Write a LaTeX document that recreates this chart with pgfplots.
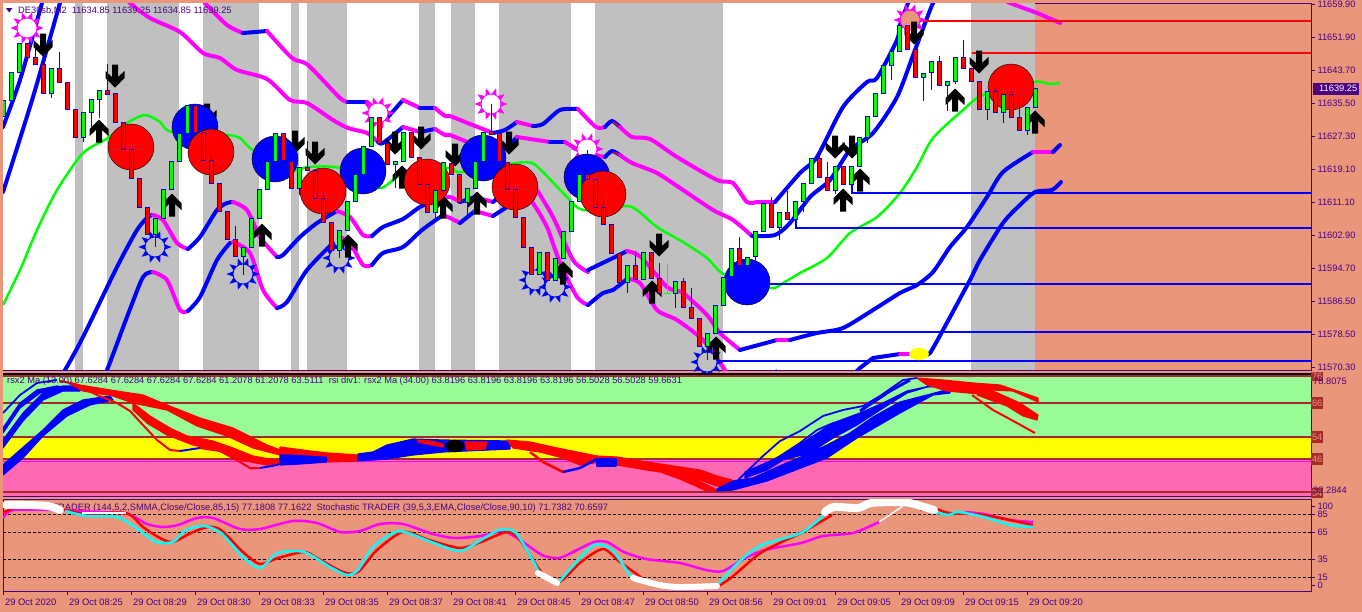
\documentclass[border=0pt]{standalone}
\usepackage{pgfplots}
\usepackage{pgfplotstable}
\usepackage{fontspec}
\setmainfont{Liberation Sans}
\pgfplotsset{compat=1.18}
\definecolor{salmonbg}{HTML}{E9967A}
\definecolor{indigoc}{HTML}{4B0082}
\definecolor{silverc}{HTML}{C0C0C0}
\definecolor{limec}{HTML}{00FF00}
\definecolor{bluec}{HTML}{0000FF}
\definecolor{magc}{HTML}{FF00FF}
\definecolor{redc}{HTML}{FF0000}
\definecolor{palegreenc}{HTML}{98FB98}
\definecolor{hotpinkc}{HTML}{FF69B4}
\definecolor{brownc}{HTML}{A52A2A}
\definecolor{cyanc}{HTML}{00FFFF}
\definecolor{yellowc}{HTML}{FFFF00}
\newcommand{\tk}{\fontsize{9.28}{10}\selectfont}
\newcommand{\xk}{\fontsize{9.4}{10}\selectfont}
% red candles: x top bottom
\pgfplotstableread{
x top bot
27.5 43 57
35.5 57 64
43.5 64 93
59.5 68 82
67.5 82 109
75.5 109 137
107.5 90 94
115.5 93 122
123.5 122 149
131.5 149 178
139.5 178 207
147.5 207 234
195.5 105 132
203.5 132 160
211.5 160 183
219.5 183 211
227.5 211 239
235.5 239 256
283.5 133 160
291.5 161 188
307.5 167 170
315.5 170 198
323.5 198 222
331.5 222 250
379.5 117 143
387.5 143 164
411.5 132 157
419.5 157 184
427.5 184 212
451.5 163 174
459.5 174 202
491.5 131 134
499.5 133 161
507.5 162 189
515.5 189 217
523.5 217 247
531.5 247 274
547.5 252 280
587.5 174 179
595.5 179 207
603.5 207 224
611.5 224 253
619.5 253 282
635.5 265 279
651.5 252 278
659.5 278 293
683.5 281 307
691.5 307 318
699.5 318 346
739.5 248 265
771.5 203 227
787.5 212 219
819.5 158 177
827.5 177 190
843.5 166 184
907.5 25 49
915.5 49 77
939.5 61 85
963.5 57 68
971.5 68 81
979.5 81 109
995.5 91 112
1011.5 94 117
1019.5 117 130
}\redcandles
% green candles: x top bottom
\pgfplotstableread{
x top bot
3.5 100 116
11.5 72 100
19.5 43 72
51.5 68 93
83.5 112 137
91.5 99 112
99.5 90 99
155.5 218 234
163.5 189 218
171.5 161 189
179.5 133 161
187.5 105 133
243.5 247 256
251.5 218 247
259.5 189 218
267.5 161 189
275.5 133 161
299.5 167 188
339.5 230 250
347.5 201 230
355.5 174 201
363.5 146 174
371.5 117 146
395.5 161 164
403.5 132 161
435.5 190 212
443.5 162 190
467.5 188 202
475.5 161 188
483.5 132 161
539.5 252 274
555.5 258 280
563.5 231 258
571.5 201 231
579.5 174 201
627.5 265 282
643.5 252 279
675.5 281 293
707.5 333 346
715.5 305 333
723.5 277 305
731.5 248 276
747.5 257 265
755.5 231 256
763.5 203 231
779.5 212 227
795.5 201 219
803.5 183 201
811.5 158 183
835.5 166 190
851.5 166 184
859.5 137 166
867.5 116 137
875.5 93 116
883.5 65 93
891.5 51 65
899.5 25 51
923.5 73 77
931.5 61 72
947.5 81 85
955.5 57 81
987.5 91 109
1003.5 94 112
1027.5 107 130
1035.5 88 107
}\greencandles
% wicks: x high low
\pgfplotstableread{
x hi lo
35.5 43 64
51.5 68 98
59.5 52 68
83.5 112 142
91.5 99 128
99.5 90 118
107.5 64 94
155.5 218 247
211.5 154 160
235.5 226 239
243.5 247 275
299.5 167 195
307.5 141 167
323.5 193 198
339.5 230 258
395.5 161 188
435.5 190 218
467.5 188 215
491.5 104 132
587.5 150 174
603.5 196 207
627.5 265 293
635.5 251 265
659.5 263 278
675.5 281 308
683.5 278 281
691.5 288 307
707.5 333 360
739.5 237 248
755.5 231 260
771.5 197 203
779.5 212 240
787.5 191 212
803.5 183 212
819.5 152 158
827.5 162 177
835.5 166 194
851.5 166 193
867.5 116 143
891.5 51 80
923.5 73 101
931.5 61 90
939.5 56 61
947.5 81 111
955.5 57 84
963.5 40 57
987.5 91 120
995.5 84 91
1003.5 94 123
1011.5 89 94
1019.5 102 117
1027.5 107 135
}\wicks
\newcommand{\candles}[2]{%
 \pgfplotstablegetrowsof{#1}\pgfmathtruncatemacro{\nrows}{\pgfplotsretval-1}%
 \pgfplotsforeachungrouped \ii in {0,...,\nrows}{%
   \pgfplotstablegetelem{\ii}{x}\of{#1}\let\cx\pgfplotsretval
   \pgfplotstablegetelem{\ii}{top}\of{#1}\let\ctop\pgfplotsretval
   \pgfplotstablegetelem{\ii}{bot}\of{#1}\let\cbot\pgfplotsretval
   \pgfmathsetmacro{\xa}{\cx-2}\pgfmathsetmacro{\xb}{\cx+2}%
   \edef\temp{\noexpand\addplot[fill=#2,draw=bluec,line width=1pt] coordinates {(\xa,\ctop)(\xb,\ctop)(\xb,\cbot)(\xa,\cbot)} -- cycle;}\temp
 }}
\pgfplotsset{
 bandb/.style={bluec,line width=4pt,line join=round,line cap=round,smooth,tension=0.45},
 bandm/.style={magc,line width=4pt,line join=round,line cap=round,smooth,tension=0.45},
 soft/.style={line join=round,smooth,tension=0.45},
 rp/.style={fill=redc,draw=redc,line width=1.2pt,line join=round},
 bp/.style={fill=bluec,draw=bluec,line width=1.2pt,line join=round},
 cb/.style={draw=none,no markers,error bars/.cd,y dir=plus,y explicit,error mark=none},
 panel/.style={scale only axis,clip mode=individual,axis line style={indigoc,line width=1pt},
   tick style={indigoc,line width=0.8pt},tick align=outside,major tick length=4pt,
   y dir=reverse,xmin=3,xmax=1311},
}
\pgfdeclareplotmark{downarr}{%
 \pgfpathmoveto{\pgfqpoint{-3pt}{11.5pt}}\pgfpathlineto{\pgfqpoint{3pt}{11.5pt}}\pgfpathlineto{\pgfqpoint{3pt}{-1pt}}%
 \pgfpathlineto{\pgfqpoint{9.5pt}{5pt}}\pgfpathlineto{\pgfqpoint{9.5pt}{-2pt}}\pgfpathlineto{\pgfqpoint{0pt}{-11.5pt}}%
 \pgfpathlineto{\pgfqpoint{-9.5pt}{-2pt}}\pgfpathlineto{\pgfqpoint{-9.5pt}{5pt}}\pgfpathlineto{\pgfqpoint{-3pt}{-1pt}}\pgfpathclose\pgfusepathqfill}
\pgfdeclareplotmark{uparr}{%
 \pgfpathmoveto{\pgfqpoint{-3pt}{-11.5pt}}\pgfpathlineto{\pgfqpoint{3pt}{-11.5pt}}\pgfpathlineto{\pgfqpoint{3pt}{1pt}}%
 \pgfpathlineto{\pgfqpoint{9.5pt}{-5pt}}\pgfpathlineto{\pgfqpoint{9.5pt}{2pt}}\pgfpathlineto{\pgfqpoint{0pt}{11.5pt}}%
 \pgfpathlineto{\pgfqpoint{-9.5pt}{2pt}}\pgfpathlineto{\pgfqpoint{-9.5pt}{-5pt}}\pgfpathlineto{\pgfqpoint{-3pt}{1pt}}\pgfpathclose\pgfusepathqfill}
\newcommand{\sunpoints}{\foreach \a in {0,36,...,324}{\pgfpathmoveto{\pgfpointpolar{\a-18}{9.5pt}}\pgfpathlineto{\pgfpointpolar{\a}{16.6pt}}\pgfpathlineto{\pgfpointpolar{\a+18}{9.5pt}}\pgfpathclose\pgfusepathqfill}}
\pgfdeclareplotmark{sunm}{\pgfsetfillcolor{magc}\sunpoints\pgfsetfillcolor{white}\pgfsetstrokecolor{magc}\pgfsetlinewidth{0.8pt}\pgfpathcircle{\pgfpointorigin}{10pt}\pgfusepathqfillstroke}
\pgfdeclareplotmark{sunp}{\pgfsetfillcolor{magc}\sunpoints\pgfsetfillcolor{salmonbg}\pgfsetstrokecolor{magc}\pgfsetlinewidth{0.8pt}\pgfpathcircle{\pgfpointorigin}{10pt}\pgfusepathqfillstroke}
\pgfdeclareplotmark{sunb}{\pgfsetfillcolor{bluec}\sunpoints\pgfsetfillcolor{silverc}\pgfsetstrokecolor{bluec}\pgfsetlinewidth{0.8pt}\pgfpathcircle{\pgfpointorigin}{10pt}\pgfusepathqfillstroke}
\begin{document}
\begin{tikzpicture}[x=1pt,y=1pt]
\useasboundingbox (0,0) rectangle (1362pt,-612pt);
\fill[salmonbg] (0,0) rectangle (1362pt,-612pt);
% ---------- main price panel ----------
\begin{axis}[panel,at={(3pt,-3pt)},anchor=north west,width=1308pt,height=367pt,ymin=3,ymax=370,
  xtick=\empty,ytick pos=right,yticklabel pos=right,
  ytick={4,37,70,103,136,169,202,235,268,301,334,367},
  yticklabels={11659.90,11651.90,11643.70,11635.50,11627.30,11619.10,11611.10,11602.90,11594.70,11586.50,11578.50,11570.30},
  yticklabel style={font=\tk,text=indigoc,anchor=west,xshift=-1pt}]
\addplot[fill=white,draw=none] coordinates {(3,3)(1035,3)(1035,370)(3,370)} -- cycle;
\addplot[fill=silverc,draw=none] coordinates {(75,3)(83,3)(83,370)(75,370)} -- cycle;
\addplot[fill=silverc,draw=none] coordinates {(107,3)(179,3)(179,370)(107,370)} -- cycle;
\addplot[fill=silverc,draw=none] coordinates {(203,3)(259,3)(259,370)(203,370)} -- cycle;
\addplot[fill=silverc,draw=none] coordinates {(291,3)(299,3)(299,370)(291,370)} -- cycle;
\addplot[fill=silverc,draw=none] coordinates {(307,3)(347,3)(347,370)(307,370)} -- cycle;
\addplot[fill=silverc,draw=none] coordinates {(419,3)(435,3)(435,370)(419,370)} -- cycle;
\addplot[fill=silverc,draw=none] coordinates {(451,3)(475,3)(475,370)(451,370)} -- cycle;
\addplot[fill=silverc,draw=none] coordinates {(499,3)(571,3)(571,370)(499,370)} -- cycle;
\addplot[fill=silverc,draw=none] coordinates {(595,3)(723,3)(723,370)(595,370)} -- cycle;
\addplot[fill=silverc,draw=none] coordinates {(971,3)(1035,3)(1035,370)(971,370)} -- cycle;
% mid line
\addplot[limec,line width=2.5pt,soft] coordinates {(3,305)(20,270)(37,230)(57,190)(83,153)(108,138)(127,123)(145,115)(160,122)(172,132)(227,135)(240,138)(253,150)(295,170)(307,167)(340,168)(378,188)(393,180)(407,172)(450,168)(460,172)(517,163)(532,163)(543,172)(567,197)(583,210)(625,206)(637,210)(657,227)(683,242)(707,258)(725,275)(770,288)(783,283)(800,273)(827,258)(850,233)(877,217)(900,193)(917,167)(933,138)(963,110)(983,95)(1033,82)(1050,84)(1060,83)};
% upper band 1
\addplot[bandb] coordinates {(3,127)(20,80)(42,3)(46,-12)};
\addplot[bandm] coordinates {(200,-5)(205,3)(227,25)(243,33)};
\addplot[bandb] coordinates {(243,33)(267,31)};
\addplot[bandm] coordinates {(267,31)(292,58)(308,65)(340,98)(348,102)};
\addplot[bandb] coordinates {(348,102)(367,102)};
\addplot[bandm] coordinates {(367,102)(377,110)(388,117)};
\addplot[bandb] coordinates {(388,117)(403,100)};
\addplot[bandm] coordinates {(403,100)(420,108)};
\addplot[bandb] coordinates {(420,108)(435,108)};
\addplot[bandm] coordinates {(435,108)(445,116)(450,116)(470,124)(493,133)};
\addplot[bandb] coordinates {(493,133)(505,130)(517,122)};
\addplot[bandm] coordinates {(517,122)(533,126)};
\addplot[bandb] coordinates {(533,126)(543,124)(560,110)(578,109)};
\addplot[bandm] coordinates {(578,109)(596,127)(605,127)};
\addplot[bandb] coordinates {(605,127)(612,121)(620,127)};
\addplot[redc,line width=1.5pt] coordinates {(613,122)(620,127)};
\addplot[bandm] coordinates {(620,127)(632,137)(650,139)(677,157)(717,180)(733,183)(747,202)(758,202)(775,202)};
\addplot[bandb] coordinates {(775,202)(800,173)(817,157)(843,107)(867,82)(877,78)(897,40)(900,25)(908,3)(915,-15)};
% upper band 2
\addplot[bandb] coordinates {(3,192)(33,97)(60,3)(65,-12)};
\addplot[bandm] coordinates {(125,-3)(130,3)(150,18)(180,32)(203,53)(220,58)(237,70)(267,79)(290,100)(307,103)(333,120)(348,128)(367,133)(378,142)};
\addplot[bandb] coordinates {(378,142)(383,143)(403,127)};
\addplot[bandm] coordinates {(403,127)(420,132)};
\addplot[bandb] coordinates {(420,132)(435,129)};
\addplot[bandm] coordinates {(435,129)(445,135)(450,135)(470,143)(490,150)};
\addplot[bandb] coordinates {(490,150)(505,148)(517,137)};
\addplot[bandm] coordinates {(517,137)(550,142)};
\addplot[bandb] coordinates {(550,142)(565,142)};
\addplot[bandm] coordinates {(565,142)(583,152)(605,157)};
\addplot[bandb] coordinates {(605,157)(612,151)(620,155)};
\addplot[redc,line width=1.5pt] coordinates {(613,152)(620,155)};
\addplot[bandm] coordinates {(620,155)(632,163)(657,173)(683,190)(713,210)(733,220)(752,236)};
\addplot[bandb] coordinates {(752,236)(775,235)(790,223)(810,197)(830,180)(850,150)(873,133)(897,97)(915,50)(933,3)(945,-15)};
% re-entering top right
\addplot[bandm] coordinates {(1005,0)(1010,3)(1037,13)(1060,23)};
% lower band 1
\addplot[bandb] coordinates {(60,376)(65,370)(83,337)(117,267)(137,230)(148,217)(153,215)};
\addplot[bandm] coordinates {(153,215)(163,220)(177,243)(188,249)};
\addplot[bandb] coordinates {(188,249)(200,237)(217,210)(227,203)(233,202)};
\addplot[bandm] coordinates {(233,202)(247,210)(260,237)(277,257)};
\addplot[bandb] coordinates {(277,257)(283,255)(300,237)(317,223)(337,211)};
\addplot[bandm] coordinates {(337,211)(350,217)(363,235)(372,236)};
\addplot[bandb] coordinates {(372,236)(383,227)(403,219)(420,207)(437,200)};
\addplot[bandm] coordinates {(437,200)(450,197)(460,202)};
\addplot[bandb] coordinates {(460,202)(475,197)};
\addplot[bandm] coordinates {(475,197)(493,202)};
\addplot[bandb] coordinates {(493,202)(505,192)};
\addplot[bandm] coordinates {(537,190)(553,217)(573,260)(588,272)};
\addplot[bandb] coordinates {(588,270)(613,258)(627,251)};
\addplot[bandm] coordinates {(627,251)(641,257)(667,287)(683,293)(707,315)(720,333)(740,350)};
\addplot[bandb] coordinates {(740,350)(777,340)};
\addplot[bandm] coordinates {(777,340)(790,340)};
\addplot[bandb] coordinates {(790,340)(817,333)(843,328)(873,310)(900,293)(917,285)(933,272)(950,247)(967,227)(987,197)(1003,172)(1033,152)};
\addplot[bandm] coordinates {(1033,152)(1053,152)};
\addplot[bandb] coordinates {(1053,152)(1060,145)};
% lower band 2
\addplot[bandb] coordinates {(100,380)(107,370)(127,317)(143,277)(153,272)};
\addplot[bandm] coordinates {(153,272)(167,280)(180,310)(188,311)};
\addplot[bandb] coordinates {(188,311)(200,297)(217,260)(230,243)};
\addplot[bandm] coordinates {(233,242)(250,253)(263,290)(277,308)};
\addplot[bandb] coordinates {(277,308)(287,302)(307,270)(333,243)};
\addplot[bandm] coordinates {(340,237)(350,243)(363,265)(372,265)};
\addplot[bandb] coordinates {(372,265)(383,253)(403,247)(422,230)(443,215)};
\addplot[bandm] coordinates {(443,215)(450,218)(460,223)};
\addplot[bandb] coordinates {(460,223)(475,211)};
\addplot[bandm] coordinates {(475,211)(493,216)};
\addplot[bandb] coordinates {(493,216)(507,207)};
\addplot[bandm] coordinates {(533,203)(547,227)(560,263)(577,297)(588,305)};
\addplot[bandb] coordinates {(588,305)(603,293)(613,290)(627,279)};
\addplot[bandm] coordinates {(627,279)(640,283)(657,310)(677,320)(703,340)(723,367)(728,377)};
\addplot[bluec,line width=4pt] coordinates {(760,385)(776,372)(790,385)};
\addplot[bluec,line width=4pt] coordinates {(850,378)(860,368)(873,358)(900,354)};
\addplot[bandm] coordinates {(900,354)(912,354)};
\addplot[bandb] coordinates {(925,354)(930,353)(943,330)(970,280)(980,260)(1003,223)(1020,205)(1035,192)(1052,190)(1061,182)};
% horizontal levels
\addplot[redc,line width=2pt] coordinates {(907,21)(1311,21)};
\addplot[redc,line width=2pt] coordinates {(972,53)(1311,53)};
\addplot[bluec,line width=2pt] coordinates {(851.5,183)(851.5,193)(1311,193)};
\addplot[bluec,line width=2pt] coordinates {(795.5,220)(795.5,228)(1311,228)};
\addplot[bluec,line width=2pt] coordinates {(760,284)(1311,284)};
\addplot[bluec,line width=2pt] coordinates {(715,332)(1311,332)};
\addplot[bluec,line width=2pt] coordinates {(707,350)(707,361)(1311,361)};
% yellow dot
\addplot[only marks,mark=*,mark size=6,mark options={xscale=1.6,fill=yellowc,draw=yellowc}] coordinates {(919,354)};
% suns
\addplot[only marks,mark=sunb] coordinates {(155,247)(243,274)(339,258)(535,280)(555,287)(707,362)};
\addplot[only marks,mark=sunm] coordinates {(27,28)(378,113)(491,104)(587,149)};
\addplot[only marks,mark=sunp] coordinates {(910,20)};
% arrows
\addplot[only marks,mark=downarr,mark options={fill=black,draw=none}] coordinates {(43,45)(115,76)(207,115)(295,142)(315,153)(395,143)(421,138)(455,155)(509,143)(659,245)(835,147)(852,147)(914,33)(979,62)};
\addplot[only marks,mark=uparr,mark options={fill=black,draw=none}] coordinates {(99,131)(172,205)(262,235)(348,246)(402,177)(443,207)(477,203)(563,273)(652,292)(716,348)(843,200)(860,180)(955,100)(1035,122)};
% circles
\addplot[only marks,mark=*,mark size=23,mark options={fill=bluec,draw=none}] coordinates {(195,127)(275,159)(363,171)(483,158)(587,177)(747,282)};
\addplot[only marks,mark=*,mark size=23,mark options={fill=redc,draw=none}] coordinates {(131,147)(211,152)(323,191)(427,182)(515,187)(603,194)(1011,87)};
% candles
\addplot[cb,error bar style={draw=bluec,line width=1pt}] table[x=x,y=hi,y error plus expr=\thisrow{lo}-\thisrow{hi}] {\wicks};
\addplot[limec,line width=1pt] coordinates {(667.5,264)(667.5,293)};
\addplot[limec,line width=1pt] coordinates {(664,293)(671,293)};
\candles{\redcandles}{redc}
\candles{\greencandles}{limec}
% title & tag
\node[anchor=west,inner sep=0pt,text=indigoc,font=\tk] at (axis cs:18,10.5) {DE30sb,M2\ \ 11634.85 11639.25 11634.85 11639.25};
\fill[indigoc!90!black] (axis cs:6,8) -- (axis cs:12.5,8) -- (axis cs:9.2,12.5) -- cycle;
\node[anchor=west,inner sep=0pt,minimum width=46pt,minimum height=12pt,fill=indigoc,text=white,font=\tk,align=center] at (axis cs:1313,88.5) {\hspace{4pt}11639.25};
\end{axis}
% ---------- rsi panel ----------
\begin{axis}[panel,at={(3pt,-373pt)},anchor=north west,width=1308pt,height=123pt,ymin=373,ymax=496,
  xtick=\empty,ytick=\empty]
\addplot[fill=palegreenc,draw=none] coordinates {(3,375)(1311,375)(1311,436)(3,436)} -- cycle;
\addplot[fill=yellowc,draw=none] coordinates {(3,436)(1311,436)(1311,460)(3,460)} -- cycle;
\addplot[fill=hotpinkc,draw=none] coordinates {(3,460)(1311,460)(1311,496)(3,496)} -- cycle;
\addplot[fill=black,draw=none] coordinates {(3,373)(1311,373)(1311,375)(3,375)} -- cycle;
% level lines
\addplot[brownc,line width=2pt] coordinates {(3,376)(1311,376)};
\addplot[brownc,line width=2pt] coordinates {(3,403)(1311,403)};
\addplot[brownc,line width=2pt] coordinates {(3,437)(1311,437)};
\addplot[brownc,line width=2pt] coordinates {(3,459)(1311,459)};
\addplot[magc,line width=1pt] coordinates {(3,461)(1311,461)};
\addplot[brownc,line width=2pt] coordinates {(3,492)(1311,492)};
% rising blue, left
\addplot[bluec,line width=1.8pt] coordinates {(3,413)(20,395)(37,383)(57,380)};
\addplot[bp] coordinates {(3,428)(20,403)(37,390)(57,386)(63,387)(40,393)(20,408)(3,433)} -- cycle;
\addplot[bp] coordinates {(3,440)(23,413)(43,393)(63,386)(80,386)(80,391)(63,391)(43,400)(23,421)(3,448)} -- cycle;
\addplot[bp] coordinates {(3,465)(20,450)(43,430)(63,410)(83,400)(110,396)(113,400)(90,405)(67,416)(43,436)(23,458)(3,475)} -- cycle;
% falling red, left
\addplot[rp] coordinates {(67,382)(80,385)(110,390)(143,395)(167,405)(200,418)(233,428)(267,445)(283,451)(300,453)(300,456)(280,455)(253,448)(227,436)(197,426)(167,410)(133,403)(113,396)(83,391)} -- cycle;
\addplot[rp] coordinates {(133,403)(150,416)(170,428)(187,436)(213,441)(233,448)(253,456)(280,461)(287,463)(267,465)(240,460)(217,450)(193,445)(167,435)(147,423)(133,410)} -- cycle;
\addplot[redc,line width=2pt] coordinates {(60,381)(75,384)(97,395)(117,403)(130,411)(143,425)(157,440)(170,450)(180,451)};
\addplot[bluec,line width=2pt] coordinates {(180,451)(200,448)};
\addplot[redc,line width=2pt] coordinates {(200,448)(220,451)(233,458)(250,468)(260,468)};
\addplot[bluec,line width=2pt] coordinates {(260,468)(277,465)(287,460)};
% middle
\addplot[bp] coordinates {(280,455)(327,455)(327,462)(300,464)(280,465)} -- cycle;
\addplot[rp] coordinates {(280,447)(310,451)(328,453)(358,455)(358,461)(328,462)(328,456)(310,455)(280,453)} -- cycle;
\addplot[bp] coordinates {(358,454)(373,452)(387,445)(413,439)(443,440)(510,441)(510,449)(443,452)(413,455)(387,459)(373,460)(358,461)} -- cycle;
\addplot[rp] coordinates {(418,440)(430,441)(443,444)(443,447)(432,445)(418,442)} -- cycle;
\addplot[rp] coordinates {(465,442)(487,442)(485,449)(467,450)} -- cycle;
\addplot[only marks,mark=*,mark size=6,mark options={xscale=1.55,fill=black,draw=none}] coordinates {(455,446)};
% right half of the fall
\addplot[rp] coordinates {(507,440)(530,442)(557,448)(597,456)(617,457)(647,462)(680,467)(700,470)(717,476)(732,480)(732,488)(717,486)(700,480)(680,475)(647,470)(617,465)(600,462)(580,465)(563,458)(540,452)(513,448)} -- cycle;
\addplot[redc,line width=2.5pt] coordinates {(530,452)(543,462)(563,472)};
\addplot[bluec,line width=2.5pt] coordinates {(563,472)(580,468)(597,459)};
\addplot[bp] coordinates {(597,459)(616,459)(616,466)(597,466)} -- cycle;
\addplot[rp] coordinates {(663,471)(693,478)(717,490)(707,491)(680,479)(663,473)} -- cycle;
% rising blue, right
\addplot[bp] coordinates {(717,489)(733,481)(753,478)(782,465)(803,456)(827,445)(850,433)(873,417)(900,402)(927,395)(950,389)(950,393)(933,395)(900,413)(857,438)(827,458)(793,471)(767,481)(733,490)(717,491)} -- cycle;
\addplot[bp] coordinates {(745,472)(770,461)(790,451)(810,438)(833,423)(860,413)(883,403)(907,391)(930,386)(950,385)(950,388)(943,386)(927,387)(907,393)(880,410)(857,425)(833,438)(810,453)(783,460)(767,470)(745,478)} -- cycle;
\addplot[bluec,line width=1.8pt] coordinates {(738,480)(763,456)(780,441)(800,431)(823,416)(843,410)(863,406)(880,396)(903,380)(917,378)};
\addplot[bluec,line width=1.8pt] coordinates {(760,470)(777,458)(800,443)(817,430)(833,423)};
\addplot[bluec,line width=3pt] coordinates {(860,411)(890,391)(910,380)};
% falling red, right
\addplot[rp] coordinates {(917,378)(943,380)(973,383)(1000,385)(1038,398)(1038,402)(1013,391)(993,390)(980,394)(947,391)(927,385)} -- cycle;
\addplot[rp] coordinates {(993,391)(1020,403)(1038,415)(1037,420)(1023,416)(1007,406)(977,395)} -- cycle;
\addplot[redc,line width=2pt] coordinates {(972,395)(993,410)(1017,423)(1035,433)};
% right tags and numbers
\foreach \yy/\hh/\tt in {376/9/76,403/12/66,437/12/54,459/12/46,493/10/34}{
 \edef\temp{\noexpand\node[anchor=west,inner sep=0pt,minimum width=12pt,minimum height=\hh pt,fill=brownc,text=salmonbg,font=\noexpand\tk,align=center] at (axis cs:1311,\yy) {\tt};}\temp}
\node[anchor=west,inner sep=0pt,text=indigoc,font=\tk] at (axis cs:1313,381) {78.8075};
\node[anchor=west,inner sep=0pt,text=indigoc,font=\tk] at (axis cs:1313,490.5) {32.2844};
\node[anchor=west,inner sep=0pt,text=indigoc,font=\tk] at (axis cs:7,381.5) {rsx2 Ma (13.00) 67.6284 67.6284 67.6284 67.6284 61.2078 61.2078 63.5111\ \ rsi div1: rsx2 Ma (34.00) 63.8196 63.8196 63.8196 63.8196 56.5028 56.5028 59.6631};
\end{axis}
% ---------- stochastic panel ----------
\begin{axis}[panel,at={(3pt,-499pt)},anchor=north west,width=1308pt,height=92pt,ymin=499,ymax=591,
  xtick={3,67,131,195,259,323,387,451,515,579,643,707,771,835,899,963,1027},
  xticklabels={29 Oct 2020,29 Oct 08:25,29 Oct 08:29,29 Oct 08:30,29 Oct 08:33,29 Oct 08:35,29 Oct 08:37,29 Oct 08:41,29 Oct 08:45,29 Oct 08:47,29 Oct 08:50,29 Oct 08:56,29 Oct 09:01,29 Oct 09:05,29 Oct 09:09,29 Oct 09:15,29 Oct 09:20},
  xticklabel style={font=\xk,text=indigoc,anchor=north west,xshift=-1.5pt,yshift=0pt},
  xtick pos=bottom,xticklabel pos=bottom,
  ytick pos=right,yticklabel pos=right,ytick={506,514,532,559,577,585},yticklabels={100,85,65,35,15,0},
  yticklabel style={font=\tk,text=indigoc,anchor=west,xshift=-1pt}]
\addplot[black,line width=1pt,dash pattern=on 3pt off 2pt] coordinates {(3,514)(1311,514)};
\addplot[black,line width=1pt,dash pattern=on 3pt off 2pt] coordinates {(3,532)(1311,532)};
\addplot[black,line width=1pt,dash pattern=on 3pt off 2pt] coordinates {(3,559)(1311,559)};
\addplot[black,line width=1pt,dash pattern=on 3pt off 2pt] coordinates {(3,577)(1311,577)};
\node[anchor=west,inner sep=0pt,text=indigoc,font=\tk] at (axis cs:7,508.5) {Stochastic TRADER (144,5,2,SMMA,Close/Close,85,15) 77.1808 77.1622\ \ Stochastic TRADER (39,5,3,EMA,Close/Close,90,10) 71.7382 70.6597};
\addplot[magc,line width=2.5pt,soft] coordinates {(3,518)(13,510)(52,510)(100,512)(128,514)(147,524)(163,527)(178,525)(197,518)(213,518)(240,529)(260,529)(293,521)(317,523)(340,532)(360,531)(380,524)(403,524)(433,534)(455,538)(481,536)(503,531)(520,540)(542,555)(559,558)(577,550)(594,542)(607,542)(624,552)(646,559)(680,563)(706,570)(723,571)(745,558)(765,550)(801,543)(823,536)(853,533)(879,522)};
\addplot[white,line width=1.5pt] coordinates {(879,522)(885,518)(903,506)};
\addplot[magc,line width=2.5pt,soft] coordinates {(965,512)(984,514)(1010,520)(1033,522)};
\addplot[redc,line width=2.5pt,soft] coordinates {(3,513)(17,507)(43,508)(65,510)(87,514)(126,513)(143,527)(160,538)(173,542)(191,533)(208,527)(221,530)(243,552)(260,564)(278,558)(304,552)(317,558)(343,572)(358,572)(377,550)(403,532)(429,540)(460,548)(481,542)(507,532)(520,540)(542,573)(559,582)(581,562)(603,549)(620,562)(642,578)};
\addplot[redc,line width=2.5pt,soft] coordinates {(717,587)(732,577)(762,552)(801,533)(832,515)};
\addplot[redc,line width=2.5pt,soft] coordinates {(920,510)(936,509)(949,513)(984,515)(1033,525)};
\addplot[cyanc,line width=2.5pt,soft] coordinates {(65,511)(87,516)(117,517)(139,530)(156,542)(173,542)(186,530)(204,526)(221,533)(243,557)(260,568)(278,553)(304,552)(330,567)(347,575)(358,570)(373,547)(395,532)(408,533)(434,543)(460,551)(481,540)(499,530)(516,533)(538,570)};
\addplot[cyanc,line width=2.5pt,soft] coordinates {(559,582)(572,567)(594,545)(612,550)(631,577)};
\addplot[cyanc,line width=2.5pt,soft] coordinates {(719,583)(741,560)(762,545)(801,533)(823,516)};
\addplot[cyanc,line width=2.5pt,soft] coordinates {(934,512)(949,515)(958,512)(984,517)(1010,525)(1033,527)};
\addplot[white,line width=8pt,line cap=round,line join=round,soft] coordinates {(6,505)(26,505)(48,506)(60,510)};
\addplot[white,line width=1.5pt] coordinates {(82,513)(126,513)};
\addplot[white,line width=6pt,line cap=round,soft] coordinates {(538,573)(557,583)};
\addplot[white,line width=6pt,line cap=round,soft] coordinates {(633,578)(659,585)(680,587)(717,586)};
\addplot[white,line width=8pt,line cap=round,soft] coordinates {(825,512)(834,507)(858,508)(871,503)(897,502)(910,503)(934,510)};
\end{axis}
\end{tikzpicture}
\end{document}
